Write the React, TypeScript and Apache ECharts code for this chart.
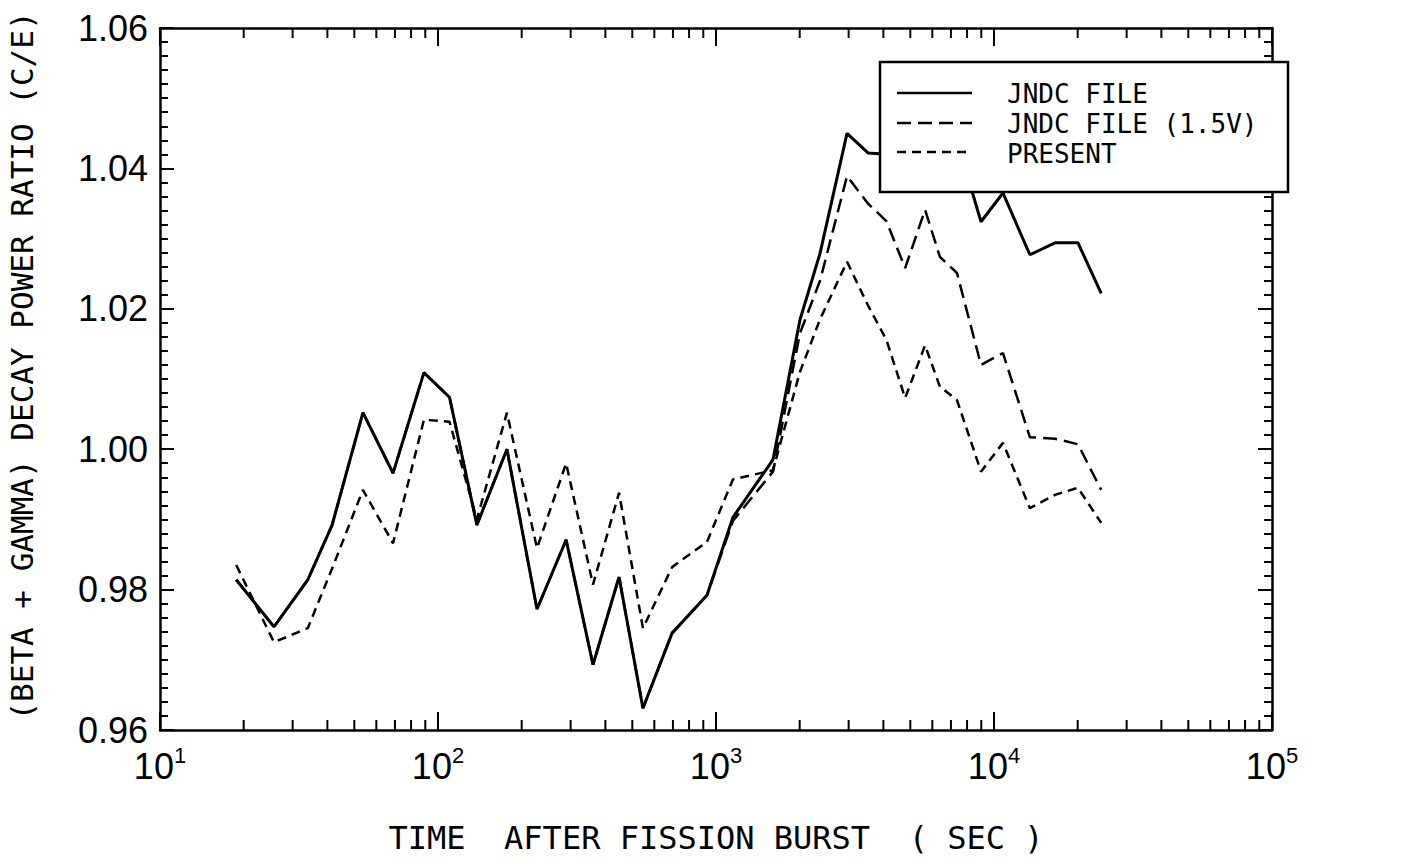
import React, { useEffect, useRef } from "react";
import * as echarts from "echarts";

// Time after fission burst (s)
const TIMES = [
  18.8, 25.7, 34, 41.6, 53.7, 68.9, 89, 110, 138, 177, 227, 289, 361, 448, 546,
  695, 928, 1151, 1603, 2004, 2367, 2960, 3520, 4100, 4790, 5650, 6390, 7360,
  8980, 10770, 13460, 16570, 20050, 24300,
];

// JNDC FILE (solid)
const JNDC_FILE = [
  0.9814, 0.9747, 0.9814, 0.9892, 1.0052, 0.9966, 1.0109, 1.0074, 0.9892, 1.0,
  0.9772, 0.9871, 0.9693, 0.9818, 0.9631, 0.9738, 0.9792, 0.9903, 0.9985,
  1.0184, 1.0279, 1.045, 1.0422, 1.042, 1.04, 1.044, 1.042, 1.044, 1.0324,
  1.0365, 1.0277, 1.0294, 1.0294, 1.0222,
];

// JNDC FILE (1.5V) (long dash)
const JNDC_FILE_15V = [
  0.9814, 0.9747, 0.9814, 0.9892, 1.0052, 0.9966, 1.0109, 1.0074, 0.9892, 1.0,
  0.9772, 0.9871, 0.9693, 0.9818, 0.9631, 0.9738, 0.9792, 0.9898, 0.9968,
  1.0165, 1.024, 1.0389, 1.035, 1.0325, 1.0258, 1.0341, 1.0274, 1.0251, 1.012,
  1.0137, 1.0017, 1.0015, 1.0007, 0.9942,
];

// PRESENT (short dash)
const PRESENT = [
  0.9835, 0.9725, 0.9745, 0.983, 0.9942, 0.9866, 1.0042, 1.0039, 0.99, 1.0052,
  0.9859, 0.998, 0.9807, 0.9938, 0.9745, 0.9832, 0.9868, 0.9957, 0.997, 1.011,
  1.0185, 1.0267, 1.0205, 1.0156, 1.0073, 1.0148, 1.0089, 1.007, 0.9968,
  1.0009, 0.9916, 0.9935, 0.9945, 0.9895,
];

// Minor tick values on the log axis
const X_MINOR_TICKS = [
  20, 30, 40, 50, 60, 70, 80, 90, 200, 300, 400, 500, 600, 700, 800, 900, 2000,
  3000, 4000, 5000, 6000, 7000, 8000, 9000, 20000, 30000, 40000, 50000, 60000,
  70000, 80000, 90000,
];

const LEGEND_LABELS = ["JNDC FILE", "JNDC FILE (1.5V)", "PRESENT"];
const X_TITLE = "TIME  AFTER FISSION BURST  ( SEC )";
const Y_TITLE = "(BETA + GAMMA) DECAY POWER RATIO (C/E)";

const MONO = "DejaVu Sans Mono";
const SANS = "Liberation Sans";

export default function App() {
  const ref = useRef<HTMLDivElement>(null);

  useEffect(() => {
    if (!ref.current) return;
    const chart = echarts.init(ref.current, undefined, { renderer: "svg" });

    const pairs = (vals: number[]) => TIMES.map((t, i) => [t, vals[i]]);

    const axisLine = { show: true, onZero: false, lineStyle: { color: "#000", width: 2.5 } };

    const option: any = {
      animation: false,
      backgroundColor: "#fff",
      grid: { left: 160, right: 153, top: 28, bottom: 131, containLabel: false },
      xAxis: [
        {
          type: "log",
          logBase: 10,
          min: 10,
          max: 100000,
          position: "bottom",
          axisLine,
          axisTick: { show: true, inside: true, length: 18, lineStyle: { color: "#000", width: 2 } },
          splitLine: { show: false },
          axisLabel: {
            margin: 14,
            formatter: (v: number) => `{b|10}{s|${Math.round(Math.log10(v))}}`,
            rich: {
              b: { fontSize: 36, fontFamily: SANS, color: "#000", lineHeight: 40, verticalAlign: "bottom" },
              s: { fontSize: 22, fontFamily: SANS, color: "#000", lineHeight: 6, verticalAlign: "top" },
            },
          },
          name: X_TITLE,
          nameLocation: "middle",
          nameGap: 92,
          nameTextStyle: { fontFamily: MONO, fontSize: 32, color: "#000" },
        },
        {
          type: "log",
          logBase: 10,
          min: 10,
          max: 100000,
          position: "top",
          axisLine,
          axisTick: { show: true, inside: true, length: 18, lineStyle: { color: "#000", width: 2 } },
          axisLabel: { show: false },
          splitLine: { show: false },
        },
      ],
      yAxis: [
        {
          type: "value",
          min: 0.96,
          max: 1.06,
          interval: 0.02,
          position: "left",
          axisLine,
          axisTick: { show: true, inside: true, length: 14, lineStyle: { color: "#000", width: 2 } },
          minorTick: { show: true, splitNumber: 10, length: 8, lineStyle: { color: "#000", width: 2 } },
          splitLine: { show: false },
          minorSplitLine: { show: false },
          axisLabel: {
            margin: 12,
            fontSize: 36,
            lineHeight: 26,
            fontFamily: SANS,
            color: "#000",
            formatter: (v: number) => v.toFixed(2),
          },
        },
        {
          type: "value",
          min: 0.96,
          max: 1.06,
          interval: 0.02,
          position: "right",
          axisLine,
          axisTick: { show: true, inside: true, length: 14, lineStyle: { color: "#000", width: 2 } },
          minorTick: { show: true, splitNumber: 10, length: 8, lineStyle: { color: "#000", width: 2 } },
          splitLine: { show: false },
          axisLabel: { show: false },
        },
      ],
      series: [
        {
          type: "custom",
          name: "minorTicks",
          silent: true,
          clip: false,
          coordinateSystem: "cartesian2d",
          xAxisIndex: 0,
          yAxisIndex: 0,
          data: X_MINOR_TICKS.map((v) => [v, 0.96]),
          encode: { x: 0, y: 1 },
          renderItem: (_p: any, api: any) => {
            const v = api.value(0);
            const b = api.coord([v, 0.96]);
            const t = api.coord([v, 1.06]);
            const len = 10;
            return {
              type: "group",
              children: [
                { type: "line", shape: { x1: b[0], y1: b[1], x2: b[0], y2: b[1] - len }, style: { stroke: "#000", lineWidth: 2 } },
                { type: "line", shape: { x1: t[0], y1: t[1], x2: t[0], y2: t[1] + len }, style: { stroke: "#000", lineWidth: 2 } },
              ],
            };
          },
          z: 1,
        },
        {
          type: "line",
          name: LEGEND_LABELS[1],
          data: pairs(JNDC_FILE_15V),
          showSymbol: false,
          lineStyle: { color: "#000", width: 2.5, type: [14, 7] },
          z: 2,
        },
        {
          type: "line",
          name: LEGEND_LABELS[2],
          data: pairs(PRESENT),
          showSymbol: false,
          lineStyle: { color: "#000", width: 2.5, type: [9, 6] },
          z: 3,
        },
        {
          type: "line",
          name: LEGEND_LABELS[0],
          data: pairs(JNDC_FILE),
          showSymbol: false,
          lineStyle: { color: "#000", width: 3 },
          z: 4,
        },
      ],
      graphic: [
        {
          type: "text",
          x: 22,
          y: 366,
          rotation: Math.PI / 2,
          style: {
            text: Y_TITLE,
            font: `31px "${MONO}"`,
            fill: "#000",
            align: "center",
            verticalAlign: "middle",
          },
        },
        {
          type: "group",
          z: 100,
          children: [
            {
              type: "rect",
              shape: { x: 880, y: 62, width: 408, height: 130 },
              style: { fill: "#fff", stroke: "#000", lineWidth: 2.5 },
              z: 100,
            },
            { type: "line", shape: { x1: 897, y1: 93, x2: 972, y2: 93 }, style: { stroke: "#000", lineWidth: 2.5 }, z: 101 },
            { type: "line", shape: { x1: 897, y1: 123, x2: 972, y2: 123 }, style: { stroke: "#000", lineWidth: 2.5, lineDash: [14, 7] }, z: 101 },
            { type: "line", shape: { x1: 897, y1: 152, x2: 972, y2: 152 }, style: { stroke: "#000", lineWidth: 2.5, lineDash: [9, 6] }, z: 101 },
            { type: "text", x: 1007, y: 94, style: { text: LEGEND_LABELS[0], font: `26px "${MONO}"`, fill: "#000", verticalAlign: "middle" }, z: 101 },
            { type: "text", x: 1007, y: 124, style: { text: LEGEND_LABELS[1], font: `26px "${MONO}"`, fill: "#000", verticalAlign: "middle" }, z: 101 },
            { type: "text", x: 1007, y: 154, style: { text: LEGEND_LABELS[2], font: `26px "${MONO}"`, fill: "#000", verticalAlign: "middle" }, z: 101 },
          ],
        },
      ],
    };

    chart.setOption(option);
    return () => chart.dispose();
  }, []);

  return (
    <div
      ref={ref}
      style={{ position: "absolute", left: 0, top: 0, width: 1425, height: 861, background: "#fff" }}
    />
  );
}
